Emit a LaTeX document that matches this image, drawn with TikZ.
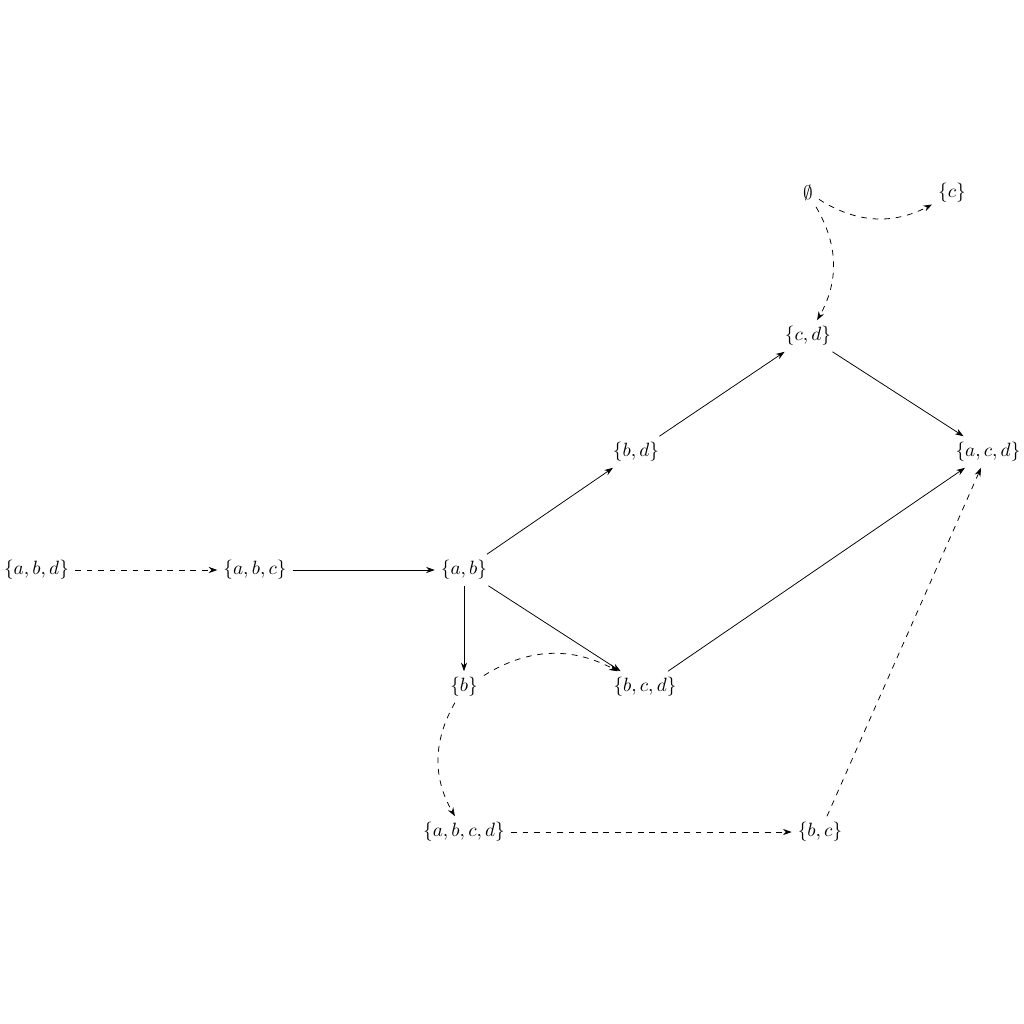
\documentclass[tikz,border=0pt]{standalone}
\usetikzlibrary{arrows.meta}
\begin{document}
\begin{tikzpicture}[x=0.52pt,y=-0.52pt,
  every node/.style={inner sep=3pt},
  arr/.style={-{Stealth[length=4.5pt,width=3.2pt]}},
  darr/.style={arr,dashed}]
\useasboundingbox (0,0) rectangle (1024,1024);
\node (e)    at (808,193) {$\emptyset$};
\node (c)    at (952,193) {$\{c\}$};
\node (cd)   at (808,336) {$\{c,d\}$};
\node (bd)   at (636,452) {$\{b,d\}$};
\node (acd)  at (988,452) {$\{a,c,d\}$};
\node (abd)  at (36.5,570) {$\{a,b,d\}$};
\node (abc)  at (255,570) {$\{a,b,c\}$};
\node (ab)   at (464,570) {$\{a,b\}$};
\node (b)    at (464,687) {$\{b\}$};
\node (bcd)  at (645,687) {$\{b,c,d\}$};
\node (abcd) at (464,832) {$\{a,b,c,d\}$};
\node (bc)   at (820,832) {$\{b,c\}$};

\draw[darr] (abd) -- (abc);
\draw[arr] (abc) -- (ab);
\draw[arr] (ab) -- (bd);
\draw[arr] (ab) -- (bcd);
\draw[arr] (ab) -- (b);
\draw[arr] (bd) -- (cd);
\draw[arr] (cd) -- (acd);
\draw[arr] (bcd) -- (acd);
\draw[darr] (e) to[bend right=30] (c);
\draw[darr] (e) to[bend left=30] (cd);
\draw[darr] (b) to[bend left=30] (bcd);
\draw[darr] (b) to[bend right=30] (abcd);
\draw[darr] (abcd) -- (bc);
\draw[darr] (bc) -- (acd);
\end{tikzpicture}
\end{document}
